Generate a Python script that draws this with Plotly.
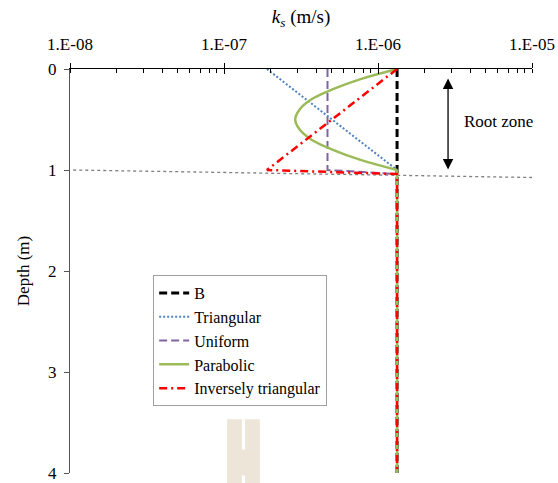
import numpy as np
import plotly.graph_objects as go

# ---- data -------------------------------------------------------------
depth_B = [0.0, 4.0]
ks_B = [1.33e-6, 1.33e-6]

depth_tri = [0.0, 1.0, 4.0]
ks_tri = [1.9e-7, 1.33e-6, 1.33e-6]

depth_uni = [0.0, 1.0, 1.04, 4.0]
ks_uni = [4.7e-7, 4.7e-7, 1.33e-6, 1.33e-6]

# parabolic profile inside the root zone, then constant below it
depth_par = [0.0, 0.1, 0.2, 0.3, 0.4, 0.5, 0.6, 0.7, 0.8, 0.9, 1.0]
ks_par = [1.33e-6, 7.7e-7, 5.1e-7, 3.7e-7, 3.1e-7, 2.9e-7,
          3.1e-7, 3.7e-7, 5.1e-7, 7.7e-7, 1.33e-6]
depth_par_below = [1.0, 4.0]
ks_par_below = [1.33e-6, 1.33e-6]

depth_inv = [0.0, 1.0, 1.04, 4.0]
ks_inv = [1.33e-6, 1.9e-7, 1.33e-6, 1.33e-6]

# boundary of the root zone (dashed guide)
depth_guide = [1.0, 1.075]
ks_guide = [1.05e-8, 1.05e-5]

x_tickvals = [1e-8, 1e-7, 1e-6, 1e-5]
x_ticktext = ["1.E-08", "1.E-07", "1.E-06", "1.E-05"]
y_tickvals = [0, 1, 2, 3, 4]

FONT = "Times New Roman, Liberation Serif, DejaVu Serif, serif"

fig = go.Figure()

fig.add_trace(go.Scatter(x=ks_guide, y=depth_guide, mode="lines",
                         line=dict(color="#7f7f7f", width=1.3, dash="3px,3px"),
                         showlegend=False, hoverinfo="skip"))

fig.add_trace(go.Scatter(x=ks_B, y=depth_B, mode="lines", name="B",
                         line=dict(color="black", width=3, dash="8px,4px")))
fig.add_trace(go.Scatter(x=ks_tri, y=depth_tri, mode="lines", name="Triangular",
                         line=dict(color="#4F81BD", width=2, dash="2px,2px")))
fig.add_trace(go.Scatter(x=ks_uni, y=depth_uni, mode="lines", name="Uniform",
                         line=dict(color="#8064A2", width=2, dash="8px,4px")))
fig.add_trace(go.Scatter(x=ks_par, y=depth_par, mode="lines", name="Parabolic",
                         legendgroup="par",
                         line=dict(color="#9BBB59", width=2.5, shape="spline")))
fig.add_trace(go.Scatter(x=ks_par_below, y=depth_par_below, mode="lines", name="Parabolic",
                         legendgroup="par", showlegend=False,
                         line=dict(color="#9BBB59", width=2.5)))
fig.add_trace(go.Scatter(x=ks_inv, y=depth_inv, mode="lines", name="Inversely triangular",
                         line=dict(color="#FF0000", width=2.5, dash="8px,4px,2px,4px")))

# invisible trace so that the overlay axis (inner half of the major ticks) is drawn
fig.add_trace(go.Scatter(x=[1e-8], y=[0], xaxis="x2", mode="markers",
                         marker=dict(opacity=0), showlegend=False, hoverinfo="skip"))

fig.update_layout(
    width=558, height=483,
    margin=dict(l=70, r=26, t=69, b=10),
    paper_bgcolor="white", plot_bgcolor="white",
    font=dict(family=FONT, size=17, color="black"),
    xaxis=dict(
        type="log", range=[-8, -5], side="top", automargin=False,
        tickvals=x_tickvals, ticktext=x_ticktext,
        tickfont=dict(family=FONT, size=17),
        ticks="outside", ticklen=5, tickcolor="black", tickwidth=1,
        ticklabelstandoff=6,
        minor=dict(ticks="inside", ticklen=4, tickcolor="black", dtick="D1", showgrid=False),
        showline=True, linecolor="black", linewidth=1,
        showgrid=False, zeroline=False,
        title=dict(text="<i>k<sub>s</sub></i> (m/s)", font=dict(family=FONT, size=19), standoff=6),
    ),
    xaxis2=dict(
        type="log", range=[-8, -5], overlaying="x", side="top", automargin=False,
        tickvals=x_tickvals, ticks="inside", ticklen=5, tickcolor="black",
        showticklabels=False, showline=False, showgrid=False, zeroline=False,
    ),
    yaxis=dict(
        range=[4.0, 0.0], tickvals=y_tickvals, automargin=False,
        tickfont=dict(family=FONT, size=17),
        ticks="outside", ticklen=5, tickcolor="#555555",
        ticklabelstandoff=4, ticklabeloverflow="allow",
        showline=True, linecolor="#555555", linewidth=1,
        showgrid=False, zeroline=False,
        title=dict(text="Depth (m)", font=dict(family=FONT, size=17), standoff=14),
    ),
    legend=dict(
        x=0.18, y=0.49, xanchor="left", yanchor="top",
        bgcolor="white", bordercolor="#a0a0a0", borderwidth=1,
        font=dict(family=FONT, size=16), tracegroupgap=0,
    ),
)

# root-zone arrow and label
fig.add_annotation(x=np.log10(2.85e-6), y=0.995, ax=np.log10(2.85e-6), ay=0.08,
                   xref="x", yref="y", axref="x", ayref="y", text="",
                   showarrow=True, arrowhead=2, startarrowhead=2, arrowside="end+start",
                   arrowsize=1.6, startarrowsize=1.6, arrowwidth=1.3, arrowcolor="black")
fig.add_annotation(x=np.log10(3.5e-6), y=0.52, xref="x", yref="y", text="Root zone",
                   showarrow=False, xanchor="left", yanchor="middle",
                   font=dict(family=FONT, size=17))

# beige stamp at the lower edge
fig.add_shape(type="rect", xref="paper", yref="paper", x0=0.34, x1=0.411, y0=-0.025, y1=0.133,
              fillcolor="#EDE5D8", line=dict(width=0), layer="above")
fig.add_shape(type="rect", xref="paper", yref="paper", x0=0.372, x1=0.379, y0=0.058, y1=0.133,
              fillcolor="white", line=dict(width=0), layer="above")
fig.add_shape(type="rect", xref="paper", yref="paper", x0=0.372, x1=0.379, y0=-0.025, y1=-0.006,
              fillcolor="white", line=dict(width=0), layer="above")

fig.write_html("out.html")
